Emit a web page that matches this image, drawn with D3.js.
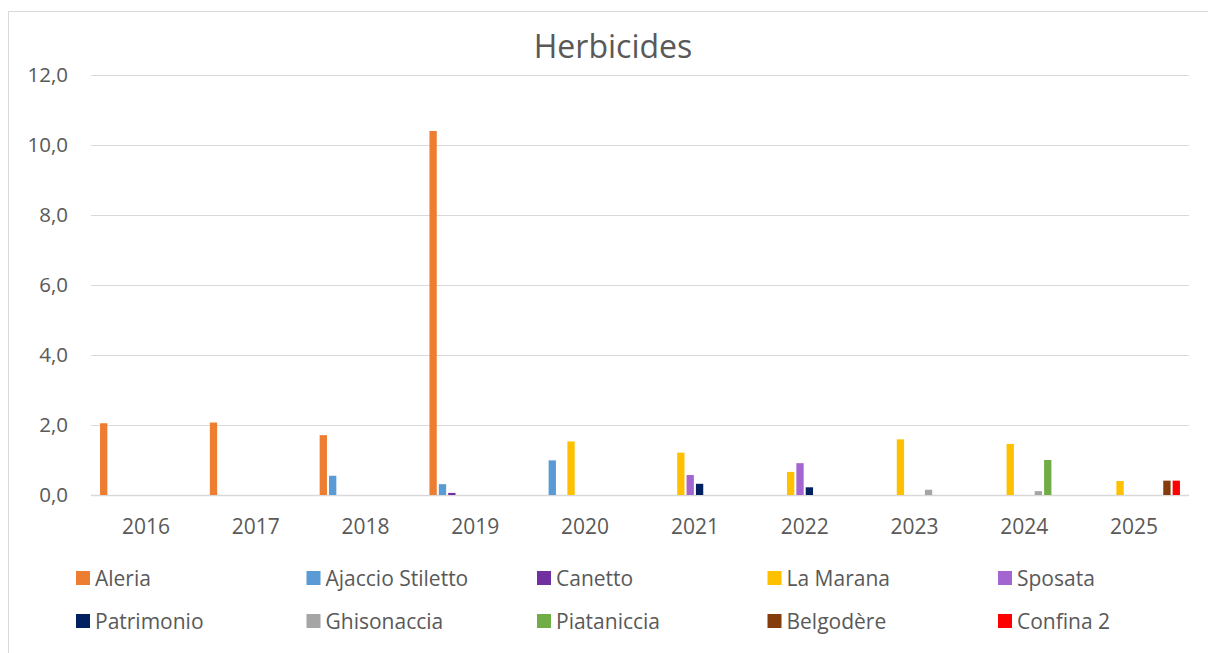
<!DOCTYPE html>
<html>
<head>
<meta charset="utf-8">
<script src="https://cdn.jsdelivr.net/npm/d3@7"></script>
<style>
  html, body { margin: 0; padding: 0; background: #fff; }
  svg { display: block; font-family: "Open Sans", "Noto Sans", sans-serif; }
</style>
</head>
<body>
<svg id="chart" width="1208" height="653"></svg>
<script>
const title = "Herbicides";
const years = ["2016","2017","2018","2019","2020","2021","2022","2023","2024","2025"];
const seriesNames = ["Aleria","Ajaccio Stiletto","Canetto","La Marana","Sposata","Patrimonio","Ghisonaccia","Piataniccia","Belgodère","Confina 2"];
const seriesColors = ["#ED7D31","#5B9BD5","#7030A0","#FFC000","#A366D1","#002060","#A5A5A5","#70AD47","#843C0C","#FF0000"];
// values per series, one per year (null = no bar)
const aleria      = [2.05, 2.07, 1.71, 10.4, null, null, null, null, null, null];
const ajaccio     = [null, null, 0.55, 0.31, 0.99, null, null, null, null, null];
const canetto     = [null, null, null, 0.06, null, null, null, null, null, null];
const laMarana    = [null, null, null, null, 1.53, 1.21, 0.66, 1.59, 1.46, 0.40];
const sposata     = [null, null, null, null, null, 0.57, 0.91, null, null, null];
const patrimonio  = [null, null, null, null, null, 0.32, 0.22, null, null, null];
const ghisonaccia = [null, null, null, null, null, null, null, 0.15, 0.11, null];
const piataniccia = [null, null, null, null, null, null, null, null, 1.00, null];
const belgodere   = [null, null, null, null, null, null, null, null, null, 0.41];
const confina2    = [null, null, null, null, null, null, null, null, null, 0.41];
const seriesValues = [aleria, ajaccio, canetto, laMarana, sposata, patrimonio, ghisonaccia, piataniccia, belgodere, confina2];
const yTicks = [0, 2, 4, 6, 8, 10, 12];

const svg = d3.select("#chart");
const textColor = "#595959";

// chart border
svg.append("rect").attr("x", 8.5).attr("y", 11.5).attr("width", 1220).attr("height", 660)
  .attr("fill", "#fff").attr("stroke", "#d9d9d9").attr("stroke-width", 1);

const plot = { left: 91, right: 1189, top: 75, bottom: 495 };

const x0 = d3.scaleBand().domain(years).range([plot.left, plot.right]).paddingInner(0).paddingOuter(0);
const cw = x0.bandwidth();
const x1 = d3.scaleBand().domain(seriesNames).range([cw * 0.073, cw * 0.927]).paddingInner(0.22).paddingOuter(0.11);
const y = d3.scaleLinear().domain([0, 12]).range([plot.bottom, plot.top]);

// title
svg.append("text").attr("x", 613).attr("y", 58).attr("text-anchor", "middle")
  .attr("font-size", 32).attr("fill", textColor).text(title);

// gridlines
svg.append("g").selectAll("line").data(yTicks).join("line")
  .attr("x1", plot.left).attr("x2", plot.right)
  .attr("y1", d => Math.round(y(d)) + 0.5).attr("y2", d => Math.round(y(d)) + 0.5)
  .attr("stroke", "#d9d9d9").attr("stroke-width", d => d === 0 ? 1.5 : 1.2);

// y axis labels
const fmt = d => d.toFixed(1).replace(".", ",");
svg.append("g").selectAll("text").data(yTicks).join("text")
  .attr("x", 68).attr("y", d => y(d)).attr("dy", "0.36em").attr("text-anchor", "end")
  .attr("font-size", 20.5).attr("fill", textColor).text(fmt);

// x axis labels
svg.append("g").selectAll("text").data(years).join("text")
  .attr("x", d => x0(d) + cw / 2).attr("y", 534).attr("text-anchor", "middle")
  .attr("font-size", 21).attr("fill", textColor).text(d => d);

// bars
const barData = [];
seriesValues.forEach((vals, si) => {
  vals.forEach((v, yi) => {
    if (v != null) barData.push({ series: seriesNames[si], color: seriesColors[si], year: years[yi], value: v });
  });
});
svg.append("g").selectAll("rect").data(barData).join("rect")
  .attr("x", d => x0(d.year) + x1(d.series))
  .attr("width", x1.bandwidth())
  .attr("y", d => y(d.value))
  .attr("height", d => y(0) - y(d.value))
  .attr("fill", d => d.color);

// legend (equal-width columns)
const legendX = [76, 306.5, 537, 767.5, 998];
const legendY = [578, 621];
const lg = svg.append("g").selectAll("g").data(seriesNames).join("g")
  .attr("transform", (d, i) => `translate(${legendX[i % 5]},${legendY[Math.floor(i / 5)]})`);
lg.append("rect").attr("x", 0).attr("y", -7).attr("width", 14).attr("height", 14)
  .attr("fill", (d, i) => seriesColors[i]);
lg.append("text").attr("x", 19).attr("y", 0).attr("dy", "0.36em")
  .attr("font-size", 21).attr("fill", textColor).text(d => d);
</script>
</body>
</html>
